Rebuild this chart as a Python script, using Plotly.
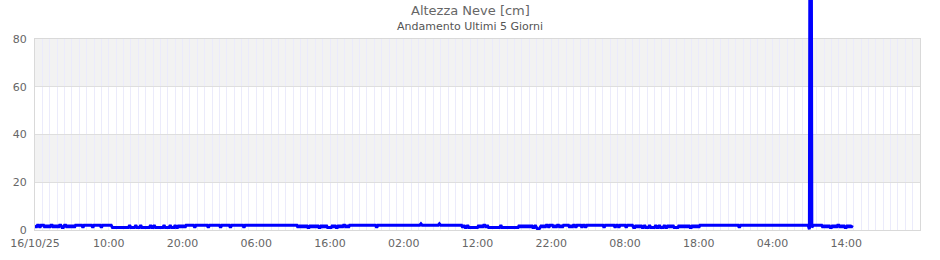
import plotly.graph_objects as go
import pandas as pd

# ---------------- data ----------------
title_text = "Altezza Neve [cm]"
subtitle_text = "Andamento Ultimi 5 Giorni"
series_name = "Altezza Neve"
start_time = "2025-10-16 00:00"
end_time = "2025-10-21 00:00"
sample_step = "10min"

# hand-read level code for each 10-minute sample (6 per hour, 10 hours per row)
level_codes = [
    "212212 221212 122121 212211 221212 121222 222122 222221 222222 122222",
    "222111 111111 111112 111121 112111 111121 121111 111211 112111 211212",
    "121222 222212 222222 222122 222222 212222 222122 222222 221222 222222",
    "222222 222222 222222 222222 222222 222212 121212 112121 212112 121211",
    "112121 121212 212122 222222 222222 222222 221222 222222 222222 222222",
    "222222 222222 223222 222222 222223 222222 222222 222222 121121 111111",
    "121212 212111 111111 121111 111111 111121 212121 212112 100121 212212",
    "221212 212122 222121 221222 212212 222222 222222 212222 222212 212222",
    "212222 211212 121121 112111 121121 112112 121211 112121 212121 121212",
    "122222 222222 222222 222222 222222 222122 222222 222222 222222 222222",
    "222222 222222 222222 222222 222222 0S1222 222221 212121 121212 212121 121212",
]
# snow height (cm) read for each code
code_values = {"0": 0.3, "1": 1.0, "2": 2.0, "3": 2.6, "S": 300.0}

x_tick_times = ["2025-10-16 00:00", "2025-10-16 10:00", "2025-10-16 20:00",
                "2025-10-17 06:00", "2025-10-17 16:00", "2025-10-18 02:00",
                "2025-10-18 12:00", "2025-10-18 22:00", "2025-10-19 08:00",
                "2025-10-19 18:00", "2025-10-20 04:00", "2025-10-20 14:00"]
x_tick_labels = ["16/10/25", "10:00", "20:00", "06:00", "16:00", "02:00",
                 "12:00", "22:00", "08:00", "18:00", "04:00", "14:00"]
y_tick_values = [0, 20, 40, 60, 80]
y_range = [0, 80]
band_ranges = [[20, 40], [60, 80]]

# ---------------- build ----------------
codes = "".join(level_codes).replace(" ", "")
snow_values = [code_values[c] for c in codes]
times = pd.date_range(start_time, periods=len(snow_values), freq=sample_step)

FIG_W, FIG_H = 940, 260
M_L, M_R, M_T, M_B = 35, 20, 0, 30
PLOT_TOP_PX = 39
plot_h = FIG_H - M_T - M_B
dom_top = (plot_h - PLOT_TOP_PX) / plot_h

font_family = "DejaVu Sans"
grid_v = "#ebebfb"
border = "#d9d9d9"

fig = go.Figure()
# empty trace to create the main subplot
fig.add_trace(go.Scatter(x=[], y=[], xaxis="x", yaxis="y", showlegend=False,
                         hoverinfo="skip"))
fig.add_trace(go.Scatter(
    x=times, y=snow_values, mode="lines", name=series_name,
    xaxis="x2", yaxis="y2", showlegend=False,
    line=dict(color="#0000ff", width=3),
))

for y0, y1 in band_ranges:
    fig.add_shape(type="rect", xref="x domain", yref="y", x0=0, x1=1, y0=y0, y1=y1,
                  fillcolor="#f2f2f2", line=dict(width=0), layer="below")

fig.update_layout(
    width=FIG_W, height=FIG_H,
    margin=dict(l=M_L, r=M_R, t=M_T, b=M_B, pad=0, autoexpand=False),
    paper_bgcolor="white", plot_bgcolor="rgba(0,0,0,0)",
    font=dict(family=font_family, color="#666666", size=11),
    showlegend=False,
    xaxis=dict(
        type="date", range=[start_time, end_time], anchor="y", automargin=False,
        tickmode="array", tickvals=x_tick_times, ticktext=x_tick_labels,
        showgrid=True, gridcolor=grid_v, gridwidth=1,
        minor=dict(dtick=3600000, tick0=start_time, showgrid=True,
                   gridcolor=grid_v, gridwidth=1),
        showline=True, linecolor=border, linewidth=1, mirror=True,
        ticks="", zeroline=False, ticklabelstandoff=3,
        tickfont=dict(size=11, color="#666666"),
    ),
    yaxis=dict(
        range=y_range, domain=[0, dom_top], anchor="x", automargin=False,
        tickmode="array", tickvals=y_tick_values,
        showgrid=True, gridcolor="#dedede", gridwidth=1,
        showline=True, linecolor=border, linewidth=1, mirror=True,
        ticks="", zeroline=False, ticklabelstandoff=5,
        tickfont=dict(size=11, color="#666666"),
    ),
    xaxis2=dict(type="date", overlaying="x", matches="x", anchor="y2",
                visible=False, showgrid=False, automargin=False),
    yaxis2=dict(domain=[0, 1], range=[0, y_range[1] / dom_top], anchor="x2",
                visible=False, showgrid=False, zeroline=False, automargin=False),
)

cx = (FIG_W / 2 - M_L) / (FIG_W - M_L - M_R)
fig.add_annotation(text=title_text, xref="paper", yref="paper",
                   x=cx, y=(plot_h - 11) / plot_h, xanchor="center", yanchor="middle",
                   showarrow=False, font=dict(size=13, color="#666666", family=font_family))
fig.add_annotation(text=subtitle_text, xref="paper", yref="paper",
                   x=cx, y=(plot_h - 26) / plot_h, xanchor="center", yanchor="middle",
                   showarrow=False, font=dict(size=11, color="#555555", family=font_family))

fig.write_html("out.html")
